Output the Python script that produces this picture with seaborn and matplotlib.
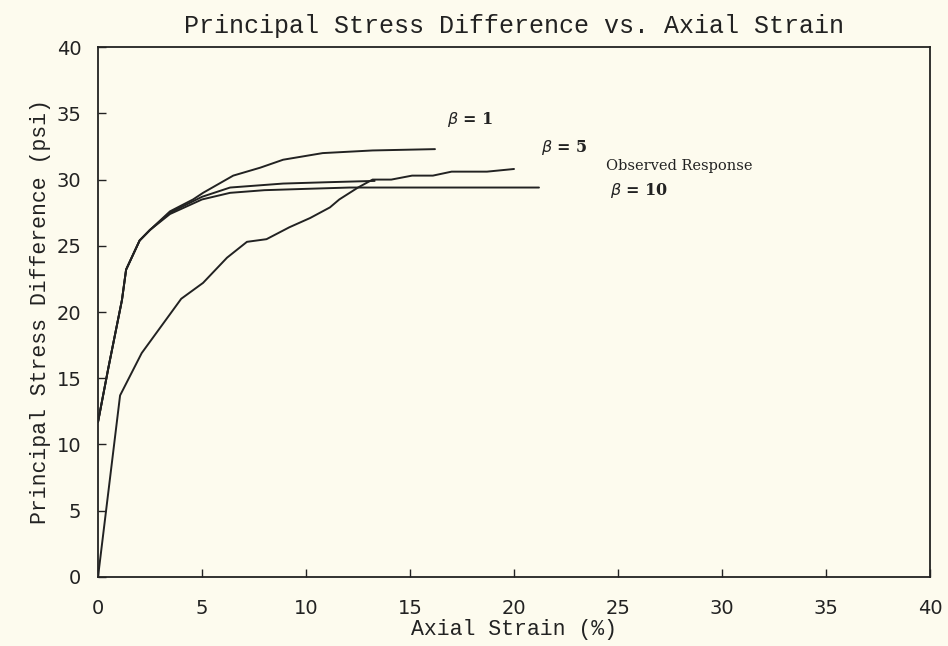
import matplotlib
matplotlib.use('Agg')
import matplotlib.pyplot as plt
import seaborn as sns

# curve data
beta1_x = [0, 0.5, 1.15, 1.35, 2.0, 2.5, 3.46, 4.57, 5.05, 6.5, 7.8, 8.9, 10.8, 13.2, 16.2]
beta1_y = [11.7, 15.8, 20.9, 23.2, 25.4, 26.2, 27.6, 28.5, 29.0, 30.3, 30.9, 31.5, 32.0, 32.2, 32.3]

beta5_x = [0, 0.5, 1.15, 1.35, 2.0, 2.5, 3.46, 5.0, 6.35, 8.9, 11.0, 13.3]
beta5_y = [11.7, 15.8, 20.9, 23.2, 25.4, 26.2, 27.5, 28.7, 29.4, 29.7, 29.8, 29.9]

beta10_x = [0, 0.5, 1.15, 1.35, 2.0, 2.5, 3.46, 5.0, 6.35, 8.0, 10.0, 12.1, 16.0, 21.2]
beta10_y = [11.7, 15.8, 20.9, 23.2, 25.4, 26.2, 27.4, 28.5, 29.0, 29.2, 29.3, 29.4, 29.4, 29.4]

obs_x = [0, 1.06, 2.1, 4.0, 5.05, 6.2, 7.16, 8.1, 9.2, 10.2, 11.15, 11.6, 12.5, 13.2,
         14.1, 15.1, 16.1, 17.0, 18.7, 20.0]
obs_y = [0, 13.7, 16.9, 21.0, 22.2, 24.1, 25.3, 25.5, 26.4, 27.1, 27.9, 28.5, 29.4, 30.0,
         30.0, 30.3, 30.3, 30.6, 30.6, 30.8]

label_text = [r'$\beta$ = 1', r'$\beta$ = 5', 'Observed Response', r'$\beta$ = 10']
label_x = [16.8, 21.3, 24.4, 24.6]
label_y = [34.5, 32.4, 31.0, 29.2]

sns.set_style('ticks')
bg = '#fdfbee'
ink = '#222222'

fig = plt.figure(figsize=(9.48, 6.46), dpi=100, facecolor=bg)
ax = fig.add_axes([0.1034, 0.107, 0.8776, 0.820])
ax.set_facecolor(bg)

for xs, ys in [(beta1_x, beta1_y), (beta5_x, beta5_y), (beta10_x, beta10_y), (obs_x, obs_y)]:
    sns.lineplot(x=xs, y=ys, ax=ax, color=ink, lw=1.4, sort=False, estimator=None)

for t, x, y in zip(label_text, label_x, label_y):
    if t.startswith('Observed'):
        ax.text(x, y, t, fontsize=10.5, family='DejaVu Serif', color=ink, va='center', ha='left')
    else:
        ax.text(x, y, t, fontsize=11.5, family='DejaVu Serif',
                fontweight='bold', color=ink, va='center', ha='left')

ax.set_xlim(0, 40)
ax.set_ylim(0, 40)
ax.set_xticks(range(0, 41, 5))
ax.set_yticks(range(0, 41, 5))
ax.tick_params(direction='in', length=6, width=1, colors=ink, labelsize=14)
ax.tick_params(axis='x', pad=16)
ax.tick_params(axis='y', pad=12)
for lab in ax.get_xticklabels() + ax.get_yticklabels():
    lab.set_family('DejaVu Sans')
for s in ax.spines.values():
    s.set_color(ink)
    s.set_linewidth(1.3)

ax.set_title('Principal Stress Difference vs. Axial Strain', family='Liberation Mono',
             fontsize=18, color=ink, pad=10)
ax.set_xlabel('Axial Strain (%)', family='Liberation Mono', fontsize=15.5, color=ink, labelpad=1)
ax.set_ylabel('Principal Stress Difference (psi)', family='Liberation Mono', fontsize=15.5,
              color=ink, labelpad=4)

plt.savefig('out.png', dpi=100, facecolor=bg)
plt.close()
